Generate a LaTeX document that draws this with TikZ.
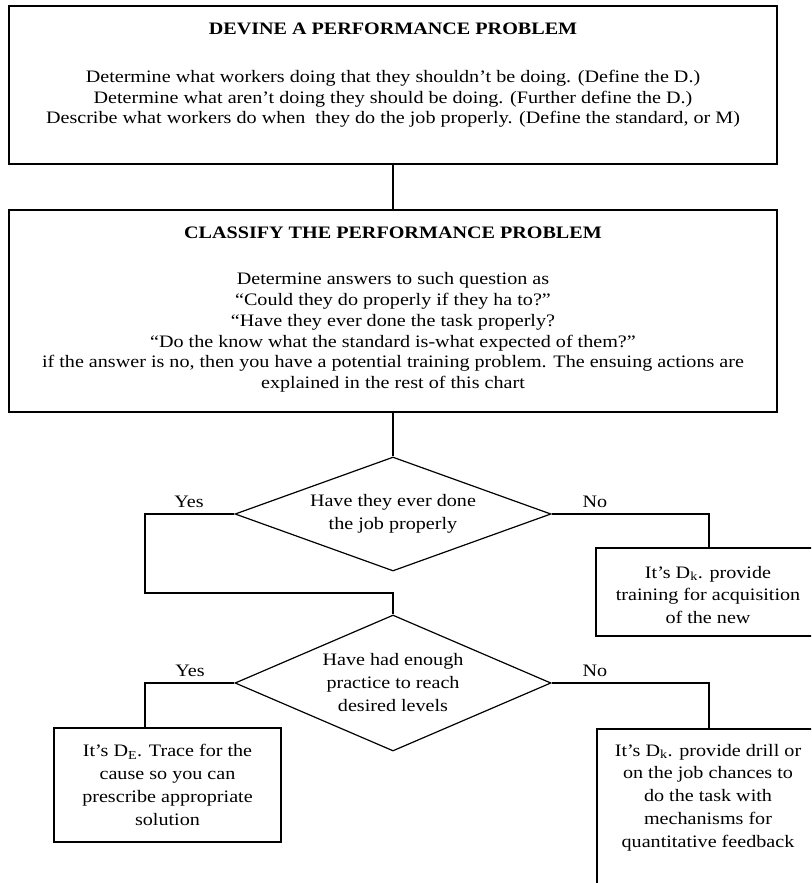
\documentclass[tikz,border=0pt]{standalone}
\usepackage{fontspec}
\setmainfont[FakeStretch=1.15]{Liberation Serif}
\usetikzlibrary{shapes.geometric}
\begin{document}
\begin{tikzpicture}[x=1pt,y=-1pt,
  box/.style={draw,line width=1.2pt,inner sep=0pt},
  dia/.style={draw,diamond,line width=1.2pt,inner sep=0pt,align=center,font=\fontsize{17.5}{23}\selectfont},
  txt/.style={align=center,inner sep=0pt,font=\fontsize{17.5}{20.7}\selectfont},
  stxt/.style={align=center,inner sep=0pt,font=\fontsize{17.5}{22.8}\selectfont},
  ttl/.style={inner sep=0pt,font=\fontsize{17.5}{21}\selectfont\bfseries},
  lbl/.style={inner sep=0pt,font=\fontsize{17.5}{21}\selectfont},
  conn/.style={line width=1.2pt}]
\useasboundingbox (0,0) rectangle (811,883);
\clip (0,0) rectangle (811,883);
% top box
\node[box,minimum width=768pt,minimum height=158pt] (b1) at (393,85) {};
\node[ttl] (t1) at (393,29) {DEVINE A PERFORMANCE PROBLEM};
\node[txt] (x1) at (393,99) {Determine what workers doing that they shouldn’t be doing. (Define the D.)\\
Determine what aren’t doing they should be doing. (Further define the D.)\\
Describe what workers do when\ \ they do the job properly. (Define the standard, or M)};
% second box
\node[box,minimum width=768pt,minimum height=202pt] (b2) at (393,311) {};
\node[ttl] (t2) at (393,233) {CLASSIFY THE PERFORMANCE PROBLEM};
\node[txt] (x2) at (393,332.5) {Determine answers to such question as\\
“Could they do properly if they ha to?”\\
“Have they ever done the task properly?\\
“Do the know what the standard is-what expected of them?”\\
if the answer is no, then you have a potential training problem. The ensuing actions are\\
explained in the rest of this chart};
% diamonds
\node[dia,aspect=2.77,minimum width=316pt,minimum height=114pt] (d1) at (393,514) {Have they ever done\\the job properly};
\node[dia,aspect=2.32,minimum width=316pt,minimum height=136pt] (d2) at (393,683) {Have had enough\\practice to reach\\desired levels};
% outcome boxes
\node[box,minimum width=227pt,minimum height=114pt,stxt] (de) at (167.5,785) {It’s D\textsubscript{E}. Trace for the\\cause so you can\\prescribe appropriate\\solution};
\node[box,minimum width=224pt,minimum height=88pt] (k1) at (708,592) {};
\node[stxt] (kt1) at (708,595) {It’s D\textsubscript{k}. provide\\training for acquisition\\of the new};
\node[box,minimum width=224pt,minimum height=180pt] (k2) at (709,819) {};
\node[stxt] (kt2) at (708,797.5) {It’s D\textsubscript{k}. provide drill or\\on the job chances to\\do the task with\\mechanisms for\\quantitative feedback};
% labels
\node[lbl] (y1) at (189,502) {Yes};
\node[lbl] (n1) at (595,502) {No};
\node[lbl] (y2) at (190,671) {Yes};
\node[lbl] (n2) at (595,671) {No};
% connectors
\coordinate (c1) at (145,593);
\coordinate (c2) at (145,683);
\coordinate (c3) at (709,514);
\coordinate (c4) at (709,683);
\draw[conn] (b1.south) -- (b2.north);
\draw[conn] (b2.south) -- (d1.north);
\draw[conn] (d1.west) -| (c1) -| (d2.north);
\draw[conn] (d1.east) -- (c3) -- (c3 |- k1.north);
\draw[conn] (d2.west) -- (c2) -- (c2 |- de.north);
\draw[conn] (d2.east) -- (c4) -- (c4 |- k2.north);
\end{tikzpicture}
\end{document}
